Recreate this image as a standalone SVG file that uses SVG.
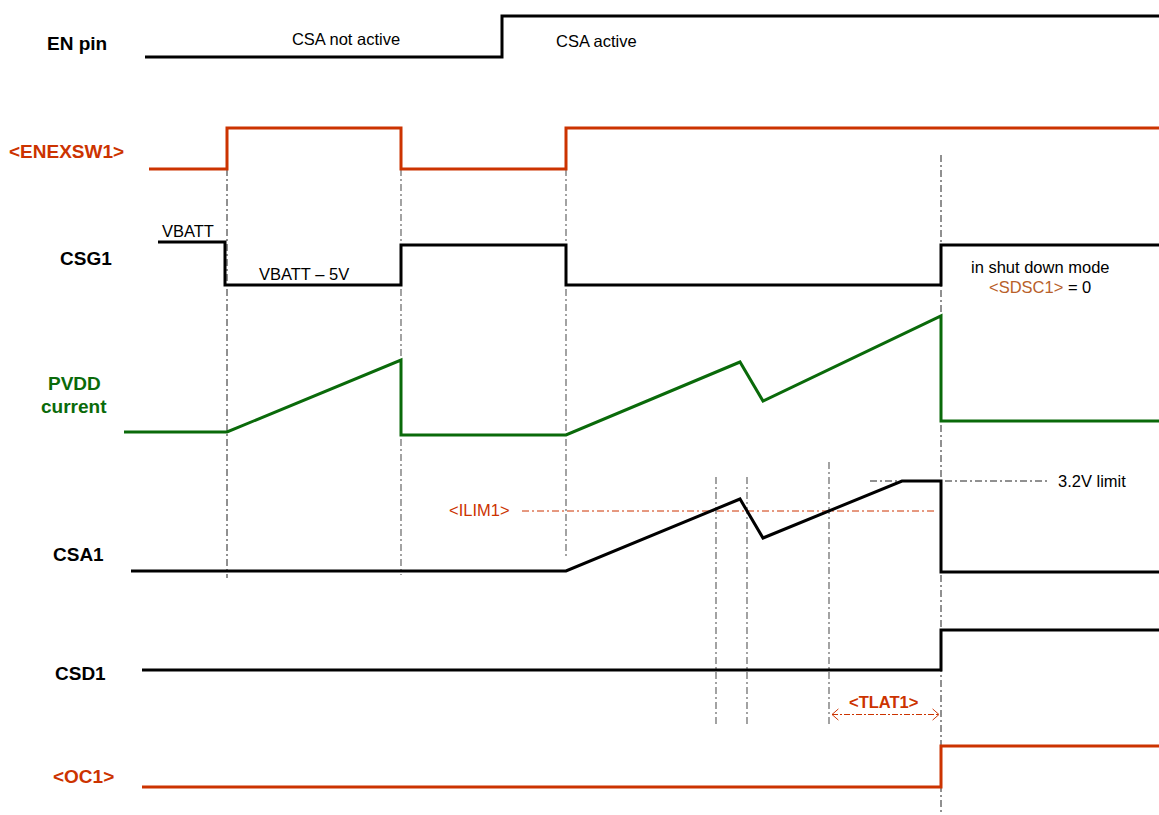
<svg xmlns="http://www.w3.org/2000/svg" width="1159" height="815" viewBox="0 0 1159 815">
<style>
.sig{fill:none;stroke-width:3;stroke-linejoin:miter;stroke-linecap:butt}
.blk{stroke:#000}
.org{stroke:#CC3300}
.grn{stroke:#0A6A0A}
.vb{fill:none;stroke:#222;stroke-width:1;stroke-dasharray:7 3 2 3}
.vg{fill:none;stroke:#666;stroke-width:1.2;stroke-dasharray:7 3 2 3}
.lbl{font-family:"Liberation Sans",Arial,sans-serif;font-weight:bold;font-size:19px}
.txt{font-family:"Liberation Sans",Arial,sans-serif;font-size:16.5px;fill:#000}
</style>
<defs>
<marker id="chev" viewBox="0 0 10 16" refX="9" refY="8" markerWidth="8" markerHeight="14" markerUnits="userSpaceOnUse" orient="auto-start-reverse">
<path d="M1,1 L9,8 L1,15" fill="none" stroke="#CC3300" stroke-width="1.2"/>
</marker>
</defs>
<rect width="1159" height="815" fill="#fff"/>

<g id="guides">
<line class="vb" x1="227" y1="169" x2="227" y2="578"/>
<line class="vg" x1="401" y1="169" x2="401" y2="575"/>
<line class="vg" x1="566" y1="169" x2="566" y2="556"/>
<line class="vb" x1="941" y1="155" x2="941" y2="815"/>
<line class="vg" x1="716" y1="477" x2="716" y2="725"/>
<line class="vg" x1="747" y1="477" x2="747" y2="725"/>
<line class="vg" x1="829" y1="462" x2="829" y2="727"/>
<line fill="none" stroke="#CC3300" stroke-width="1" stroke-dasharray="7 3 2 3" x1="522" y1="511" x2="934" y2="511"/>
<line fill="none" stroke="#222" stroke-width="1" stroke-dasharray="7 3 2 3" x1="870" y1="481" x2="1047" y2="481"/>
<line fill="none" stroke="#CC3300" stroke-width="1" stroke-dasharray="6 2 2 2" x1="832" y1="714.5" x2="939" y2="714.5" marker-start="url(#chev)" marker-end="url(#chev)"/>
</g>

<g id="en-pin">
<text class="lbl" x="47" y="50" fill="#000">EN pin</text>
<polyline class="sig blk" points="145,57 502,57 502,16 1159,16"/>
<text class="txt" x="346" y="45" text-anchor="middle">CSA not active</text>
<text class="txt" x="556" y="47">CSA active</text>
</g>

<g id="enexsw1">
<text class="lbl" x="9" y="158" fill="#CC3300">&lt;ENEXSW1&gt;</text>
<polyline class="sig org" points="149,169 227,169 227,128 401,128 401,169 566,169 566,128 1159,128"/>
</g>

<g id="csg1">
<text class="lbl" x="60" y="265" fill="#000">CSG1</text>
<text class="txt" x="162" y="237">VBATT</text>
<polyline class="sig blk" points="158,242 225,242 225,285 401,285 401,245 566,245 566,285 941,285 941,245 1159,245"/>
<text class="txt" x="259" y="280">VBATT – 5V</text>
<text class="txt" x="971" y="273">in shut down mode</text>
<text class="txt" x="989" y="293"><tspan fill="#B8602A">&lt;SDSC1&gt;</tspan> = 0</text>
</g>

<g id="pvdd">
<text class="lbl" x="48" y="390" fill="#0A6A0A">PVDD</text>
<text class="lbl" x="41" y="413" fill="#0A6A0A">current</text>
<polyline class="sig grn" points="124,432 227,432 401,360 401,435 566,435 740,362 763,401 941,316 941,421 1159,421"/>
</g>

<g id="csa1">
<text class="lbl" x="53" y="561" fill="#000">CSA1</text>
<polyline class="sig blk" points="131,571 566,571 740,499 763,538 902,481 941,481 941,572 1159,572"/>
<text class="txt" x="449" y="516" fill="#CC3300" style="fill:#CC3300">&lt;ILIM1&gt;</text>
<text class="txt" x="1058" y="487">3.2V limit</text>
</g>

<g id="csd1">
<text class="lbl" x="55" y="680" fill="#000">CSD1</text>
<polyline class="sig blk" points="142,670 941,670 941,630 1159,630"/>
<text class="lbl" x="849" y="708" fill="#CC3300" style="font-size:16.5px">&lt;TLAT1&gt;</text>
</g>

<g id="oc1">
<text class="lbl" x="53" y="783" fill="#CC3300">&lt;OC1&gt;</text>
<polyline class="sig org" points="142,787 941,787 941,746 1159,746"/>
</g>
</svg>
